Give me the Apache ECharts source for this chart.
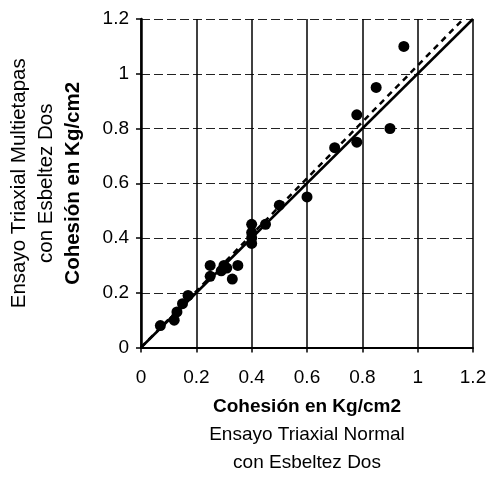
<!DOCTYPE html>
<html>
<head>
<meta charset="utf-8">
<script src="https://cdn.jsdelivr.net/npm/echarts@6/dist/echarts.min.js"></script>
<style>
html,body{margin:0;padding:0;background:#fff;}
#c{width:490px;height:477px;}
</style>
</head>
<body>
<div id="c"></div>
<script>
// Data
var normalX = [0.07,0.12,0.13,0.15,0.17,0.25,0.25,0.29,0.30,0.31,0.33,0.35,0.40,0.40,0.40,0.40,0.45,0.50,0.60,0.70,0.78,0.78,0.85,0.90,0.95];
var multiY  = [0.08,0.10,0.13,0.16,0.19,0.26,0.30,0.28,0.30,0.29,0.25,0.30,0.38,0.40,0.42,0.45,0.45,0.52,0.55,0.73,0.75,0.85,0.95,0.80,1.10];
var identityLine = [[0,0],[1.2,1.2]];
var trendLine = [[0,0],[1.165,1.2]];
var axisTicks = [0,0.2,0.4,0.6,0.8,1,1.2];
var xName = ['Cohesión en Kg/cm2','Ensayo Triaxial Normal','con Esbeltez Dos'];
var yName = ['Ensayo Triaxial Multietapas','con Esbeltez Dos','Cohesión en Kg/cm2'];

var FONT = "'Liberation Sans', Arial, sans-serif";
var pts = normalX.map(function(x,i){return [x, multiY[i]];});

var chart = echarts.init(document.getElementById('c'), null, {renderer:'canvas'});
chart.setOption({
  backgroundColor:'#fff',
  animation:false,
  grid:{left:141,right:17,top:19,bottom:125,containLabel:false},
  xAxis:{
    type:'value',min:0,max:1.2,interval:0.2,
    name:'{b|'+xName[0]+'}\n{n|'+xName[1]+'}\n{n|'+xName[2]+'}',
    nameLocation:'middle',nameGap:45,
    nameTextStyle:{rich:{
      b:{fontFamily:FONT,fontSize:19,fontWeight:'bold',color:'#000',lineHeight:28},
      n:{fontFamily:FONT,fontSize:19,color:'#000',lineHeight:28}
    }},
    axisLine:{show:true,onZero:false,lineStyle:{color:'#000',width:2}},
    axisTick:{show:true,inside:false,length:5,lineStyle:{color:'#000',width:1.5}},
    axisLabel:{fontFamily:FONT,fontSize:19,color:'#000',margin:21,
      formatter:function(v){return String(axisTicks[Math.round(v/0.2)]);}},
    splitLine:{show:true,lineStyle:{color:'#000',width:1.5,type:'solid'}}
  },
  yAxis:{
    type:'value',min:0,max:1.2,interval:0.2,
    name:'{n|'+yName[0]+'}\n{n|'+yName[1]+'}\n{b|'+yName[2]+'}',
    nameLocation:'middle',nameGap:54,nameRotate:90,
    nameTextStyle:{rich:{
      b:{fontFamily:FONT,fontSize:20.5,fontWeight:'bold',color:'#000',lineHeight:27},
      n:{fontFamily:FONT,fontSize:20.5,color:'#000',lineHeight:27}
    }},
    axisLine:{show:true,onZero:false,lineStyle:{color:'#000',width:2.5}},
    axisTick:{show:true,inside:false,length:5,lineStyle:{color:'#000',width:1.5}},
    axisLabel:{fontFamily:FONT,fontSize:19,color:'#000',margin:12,
      formatter:function(v){return String(axisTicks[Math.round(v/0.2)]);}},
    splitLine:{show:true,lineStyle:{color:'#222',width:1.2,type:[9,4]}}
  },
  series:[
    {type:'line',data:trendLine,symbol:'none',silent:true,
      lineStyle:{color:'#000',width:2.5,type:[6,5]},z:3},
    {type:'line',data:identityLine,symbol:'none',silent:true,
      lineStyle:{color:'#000',width:2.5,type:'solid'},z:4},
    {type:'scatter',data:pts,symbol:'circle',symbolSize:11,
      itemStyle:{color:'#000',opacity:1},z:5}
  ]
});
</script>
</body>
</html>
